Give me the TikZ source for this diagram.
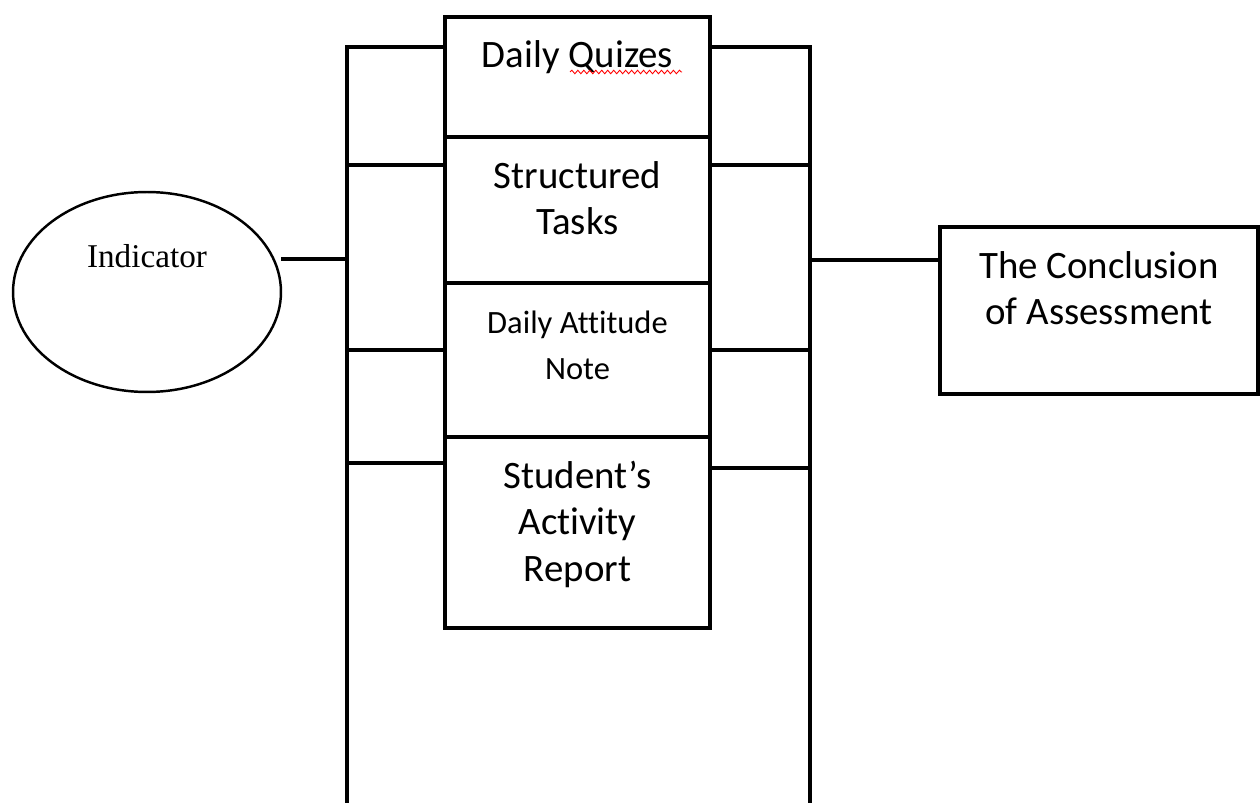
\documentclass[tikz,border=0pt]{standalone}
\usepackage{fontspec}
\newfontfamily\calibri[Ligatures=CommonOff]{Carlito}
\newfontfamily\serifface{Liberation Serif}
\usetikzlibrary{shapes.geometric,positioning,decorations.pathmorphing}

\begin{document}
\begin{tikzpicture}[
    x=0.02cm, y=-0.02cm,
    box/.style={rectangle, draw, line width=1.9pt, outer sep=0pt, minimum width=5.3cm, inner sep=0pt, align=center, font=\calibri\fontsize{22.1}{26.7}\selectfont},
    oval/.style={ellipse, draw, line width=1.4pt, minimum width=5.36cm, minimum height=4cm, inner sep=0pt, font=\serifface\fontsize{18.9}{22}\selectfont},
    bus/.style={line width=1.9pt, line cap=rect},
    squiggle/.style={red, line width=0.5pt, decorate, decoration={snake, amplitude=1pt, segment length=3.4pt}}
]
    \useasboundingbox (0,0) rectangle (1260,803);

    % Assessment items
    \node[box, text height=1.02cm, text depth=1.38cm] (quiz) at (577.5,77) {Daily Quizes};
    \node[box, text height=1.96cm, text depth=0.96cm, below=0pt of quiz] (task) {Structured\\Tasks};
    \node[box, text height=1.94cm, text depth=1.14cm, font=\calibri\fontsize{18.5}{26.7}\selectfont, below=0pt of task] (note) {Daily Attitude\\Note};
    \node[box, text height=2.9cm, text depth=0.92cm, below=0pt of note] (report) {Student’s\\Activity\\Report};
    \draw[squiggle] (570,72) -- (682,72);

    % Indicator and conclusion
    \node[oval, text height=0.5cm, text depth=1.5cm] (ind) at (147,292) {Indicator};
    \node[box, minimum width=6.36cm, text height=1.96cm, text depth=1.38cm] (concl) at (1099,310.5) {The Conclusion\\of Assessment};

    % Bus lines
    \coordinate (ltop) at (347,47);
    \coordinate (lbot) at (347,803);
    \coordinate (rtop) at (810,47);
    \coordinate (rbot) at (810,803);
    \draw[bus] (ltop) -- (lbot);
    \draw[bus] (rtop) -- (rbot);

    \foreach \n/\ly/\ry in {quiz/47/47, task/165/165, note/350/350, report/463/468} {
        \coordinate (l-\n) at (347,\ly);
        \coordinate (r-\n) at (810,\ry);
        \draw[bus] (l-\n) -- (l-\n -| \n.west);
        \draw[bus] (\n.east |- r-\n) -- (r-\n);
    }

    \coordinate (l-ind) at (347,259);
    \coordinate (r-concl) at (810,260);
    \draw[bus] (ind.east |- l-ind) -- (l-ind);
    \draw[bus] (r-concl) -- (r-concl -| concl.west);
\end{tikzpicture}
\end{document}
